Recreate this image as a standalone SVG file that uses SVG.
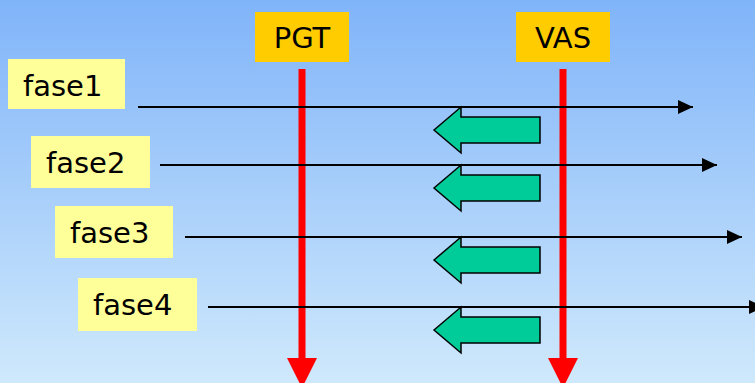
<svg xmlns="http://www.w3.org/2000/svg" width="755" height="383" viewBox="0 0 755 383">
  <defs>
    <linearGradient id="sky" x1="0" y1="0" x2="0" y2="1">
      <stop offset="0" stop-color="#80b4f9"/>
      <stop offset="1" stop-color="#cfe9fc"/>
    </linearGradient>
    <marker id="tip" markerUnits="userSpaceOnUse" markerWidth="16" markerHeight="14" refX="15" refY="7" orient="auto">
      <path d="M0,0 L15,7 L0,14 Z" fill="#000"/>
    </marker>
    <path id="back" d="M0,0 L27,-23 L27,-13 L106,-13 L106,13 L27,13 L27,23 Z"/>
  </defs>
  <style>
    .actor { fill: #ffcc00; }
    .phase { fill: #ffff99; }
    .lbl { font-family: "DejaVu Sans", Verdana, sans-serif; font-size: 29px; fill: #000; }
    .life { stroke: #ff0000; stroke-width: 7; fill: none; }
    .lifehead { fill: #ff0000; }
    .msg { stroke: #000; stroke-width: 2; fill: none; marker-end: url(#tip); }
    .reply { fill: #00cc99; stroke: #000; stroke-width: 1.5; stroke-linejoin: miter; }
  </style>

  <rect width="755" height="383" fill="url(#sky)"/>

  <!-- lifelines -->
  <g id="lifelines">
    <line class="life" x1="302" y1="69" x2="302" y2="360"/>
    <path class="lifehead" d="M287,358 L317,358 L302,388 Z"/>
    <line class="life" x1="563" y1="69" x2="563" y2="360"/>
    <path class="lifehead" d="M548,358 L578,358 L563,388 Z"/>
  </g>

  <!-- actors -->
  <g id="pgt">
    <rect class="actor" x="255" y="12" width="94" height="50"/>
    <text class="lbl" x="302" y="48" text-anchor="middle">PGT</text>
  </g>
  <g id="vas">
    <rect class="actor" x="516" y="12" width="94" height="50"/>
    <text class="lbl" x="563" y="48" text-anchor="middle">VAS</text>
  </g>

  <!-- phases -->
  <g id="fase1">
    <rect class="phase" x="8" y="59" width="117" height="50"/>
    <text class="lbl" x="23" y="96">fase1</text>
  </g>
  <g id="fase2">
    <rect class="phase" x="31" y="136" width="119" height="52"/>
    <text class="lbl" x="46" y="173">fase2</text>
  </g>
  <g id="fase3">
    <rect class="phase" x="55" y="206" width="118" height="52"/>
    <text class="lbl" x="70" y="243">fase3</text>
  </g>
  <g id="fase4">
    <rect class="phase" x="78" y="278" width="119" height="53"/>
    <text class="lbl" x="93" y="315">fase4</text>
  </g>

  <!-- connectors -->
  <g id="connectors">
    <line class="msg" x1="138" y1="107" x2="693" y2="107"/>
    <line class="msg" x1="160" y1="165" x2="717" y2="165"/>
    <line class="msg" x1="185" y1="237" x2="742" y2="237"/>
    <line class="msg" x1="208" y1="307" x2="764" y2="307"/>
    <use href="#back" class="reply" x="434" y="130"/>
    <use href="#back" class="reply" x="434" y="188"/>
    <use href="#back" class="reply" x="434" y="260"/>
    <use href="#back" class="reply" x="434" y="330"/>
  </g>
</svg>
